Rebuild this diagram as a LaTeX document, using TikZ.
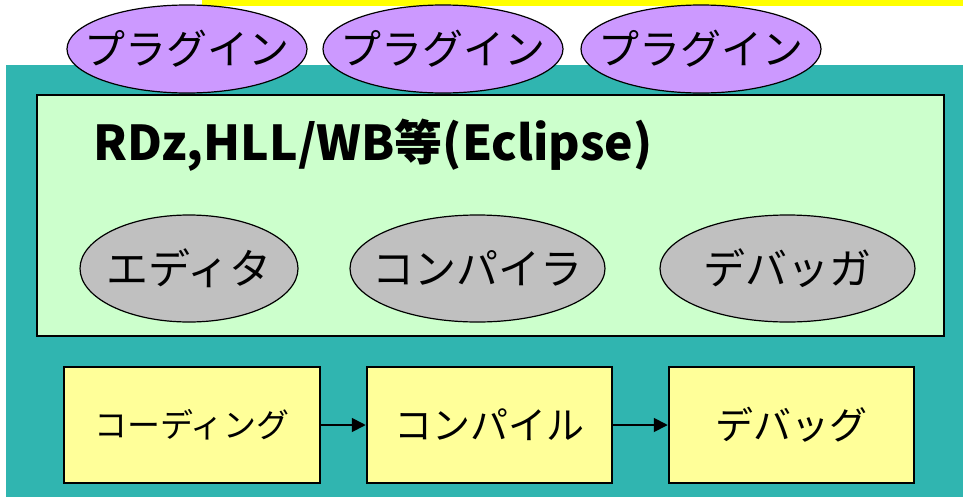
\documentclass[tikz,border=0pt]{standalone}
\usepackage{fontspec}
\setmainfont{Noto Sans CJK JP}
\usetikzlibrary{shapes.geometric,arrows.meta}

\definecolor{tealbg}{RGB}{48,181,176}
\definecolor{idegreen}{RGB}{204,255,204}
\definecolor{plugpurple}{RGB}{204,153,255}
\definecolor{toolgray}{RGB}{192,192,192}
\definecolor{phaseyellow}{RGB}{255,255,153}
\definecolor{barYellow}{RGB}{255,255,0}

\begin{document}
\begin{tikzpicture}[x=1pt,y=-1pt,
    plugin/.style={ellipse,draw,line width=1.2pt,fill=plugpurple,minimum width=240,minimum height=88,inner xsep=-25pt,inner ysep=0pt,font=\fontsize{41}{41}\selectfont},
    tool/.style={ellipse,draw,line width=1.2pt,fill=toolgray,minimum height=107,inner xsep=-25pt,inner ysep=0pt,font=\fontsize{42}{42}\selectfont},
    phase/.style={rectangle,draw,line width=2.5pt,fill=phaseyellow,minimum width=250,minimum height=116,inner sep=0pt,font=\fontsize{38}{38}\selectfont},
    flow/.style={line width=1.8pt,-{Triangle[length=14,width=14]}}]
    \useasboundingbox (0,0) rectangle (963,501);
    \fill[barYellow] (202,0) rectangle (963,5.5);
    \fill[tealbg] (6,65) rectangle (963,497);
    \node[rectangle,draw,line width=1.5pt,fill=idegreen,minimum width=907,minimum height=241,inner sep=0pt] (ide) at (490.5,215.5) {};
    \node[anchor=west,inner sep=0pt,font=\fontsize{48}{48}\bfseries\selectfont] (idename) at (93,145) {RDz,HLL/WB等(Eclipse)};
    \node[plugin] (p1) at (187,49) {プラグイン};
    \node[plugin] (p2) at (443,49) {プラグイン};
    \node[plugin] (p3) at (701,49) {プラグイン};
    \node[tool,minimum width=218] (editor) at (189,268.5) {エディタ};
    \node[tool,minimum width=255] (compiler) at (477.5,268.5) {コンパイラ};
    \node[tool,minimum width=255] (debugger) at (787.5,268.5) {デバッガ};
    \node[phase,minimum width=256,font=\fontsize{33}{33}\selectfont] (coding) at (192,425) {コーディング};
    \node[phase,minimum width=245] (compile) at (489.5,425) {コンパイル};
    \node[phase,minimum width=245] (debug) at (791.5,425) {デバッグ};
    \draw[flow] (coding) -- (compile);
    \draw[flow] (compile) -- (debug);
\end{tikzpicture}
\end{document}
